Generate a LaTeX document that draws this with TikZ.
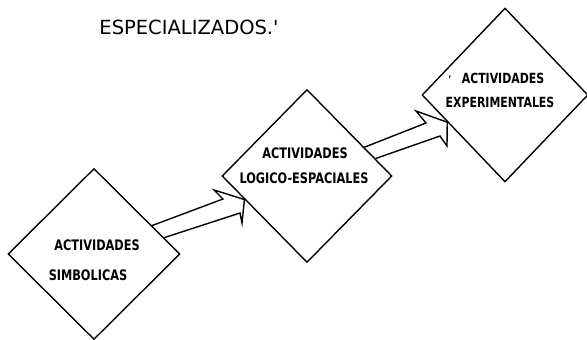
\documentclass[tikz,border=0pt]{standalone}
\usepackage{fontspec}
\usetikzlibrary{shapes.geometric,calc}
\newfontfamily\lettering[FakeStretch=0.78]{DejaVu Sans Bold}
\newfontfamily\headfont{DejaVu Sans}

\tikzset{
  stage/.style={diamond, draw, line width=1.4pt, inner sep=0pt, aspect=1},
  caption/.style={inner sep=0pt, font=\lettering\fontsize{14.5}{16}\selectfont},
  blockarrow/.style={draw, line width=1.4pt, line join=miter},
}

\begin{document}
\begin{tikzpicture}[x=1pt, y=-1pt]
  \useasboundingbox (0,0) rectangle (587,340);

  % heading
  \node[inner sep=0pt, font=\headfont\fontsize{19.5}{22}\selectfont] (head) at (189,27) {ESPECIALIZADOS.'};

  % the three stages
  \node[stage, minimum width=172pt, minimum height=171pt] (d1) at (94,254) {};
  \node[stage, minimum width=170pt, minimum height=173pt] (d2) at (307,176) {};
  \node[stage, minimum width=166pt, minimum height=174pt] (d3) at (505,95) {};

  % stage labels
  \node[caption] (t1a) at (97,245) {ACTIVIDADES};
  \node[caption] (t1b) at (88,275) {SIMBOLICAS};
  \node[caption] (t2a) at (305,153.5) {ACTIVIDADES};
  \node[caption] (t2b) at (304,178.5) {LOGICO-ESPACIALES};
  \node[caption, font=\lettering\fontsize{14}{16}\selectfont] (t3a) at (503,78) {ACTIVIDADES};
  \node[caption, font=\lettering\fontsize{14}{16}\selectfont] (t3b) at (500,102) {EXPERIMENTALES};
  \node[inner sep=0pt, font=\lettering\fontsize{9}{10}\selectfont] (t3m) at (450,77) {,};

  % block arrow from the first stage to the second
  \coordinate (a1s) at ($(d1.north)!0.67!(d1.east)$);
  \coordinate (a1e) at ($(d1.north)!0.81!(d1.east)$);
  \coordinate (a1tip) at ($(d2.west)!0.27!(d2.south)$);
  \draw[blockarrow] (a1s) -- (223,199) -- (214,190) -- (a1tip)
        -- (242,223) -- (240,213) -- (a1e);

  % block arrow from the second stage to the third
  \coordinate (a2s) at ($(d2.north)!0.67!(d2.east)$);
  \coordinate (a2e) at ($(d2.north)!0.80!(d2.east)$);
  \coordinate (a2tip) at ($(d3.west)!0.31!(d3.south)$);
  \draw[blockarrow] (a2s) -- (426,123) -- (416,111) -- (a2tip)
        -- (447,146) -- (440,136) -- (a2e);
\end{tikzpicture}
\end{document}
